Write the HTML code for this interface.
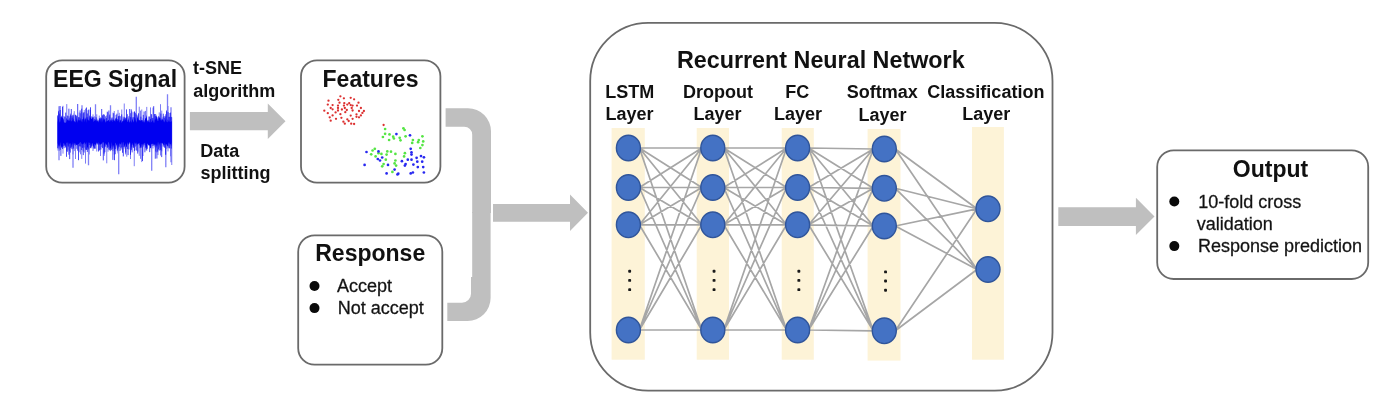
<!DOCTYPE html>
<html><head><meta charset="utf-8"><title>RNN pipeline</title>
<style>
html,body{margin:0;padding:0;background:#fff;}
body{width:1384px;height:410px;overflow:hidden;}
svg{display:block;font-family:"Liberation Sans",sans-serif;filter:blur(0.45px);}
</style></head><body>
<svg width="1384" height="410" viewBox="0 0 1384 410">
<rect width="1384" height="410" fill="#fff"/>
<rect x="46.2" y="60.3" width="138.4" height="122.3" rx="16" ry="16" fill="#fff" stroke="#6a6a6a" stroke-width="1.8"/>
<text x="53.05" y="87.2" font-size="23" font-weight="700" textLength="123.98" lengthAdjust="spacingAndGlyphs" fill="#111">EEG Signal</text>
<path d="M58.00 116.4V150.6M59.25 110.0V150.9M60.50 110.0V149.9M61.75 115.7V147.6M63.00 105.8V153.6M66.75 104.1V151.1M68.00 116.0V149.7M69.25 116.4V151.2M70.50 113.6V152.6M71.75 115.9V147.4M73.00 114.9V154.4M74.25 111.2V151.1M75.50 115.1V159.0M79.25 112.5V152.3M80.50 113.3V154.3M81.75 112.0V158.9M83.00 113.7V151.5M84.25 110.1V152.6M85.50 108.6V163.6M86.75 116.9V148.9M89.25 116.7V154.5M90.50 110.0V147.6M91.75 116.4V148.3M93.00 114.4V151.0M94.25 116.2V148.8M96.75 114.3V151.5M99.25 115.6V150.6M100.50 117.4V156.0M101.75 118.2V147.1M104.25 115.0V155.8M106.75 115.4V163.3M108.00 112.4V151.7M109.25 116.5V148.6M110.50 117.2V151.2M111.75 118.1V146.4M113.00 112.6V151.1M114.25 111.0V154.6M115.50 118.2V154.2M118.00 109.9V148.4M119.25 112.8V151.0M120.50 116.2V150.7M121.75 109.5V149.5M123.00 116.6V146.8M124.25 103.5V148.6M125.50 117.8V154.4M126.75 117.0V156.7M130.50 113.2V159.0M131.75 111.3V147.2M133.00 112.3V147.5M134.25 111.7V166.2M136.75 114.8V150.8M138.00 116.6V151.7M139.25 106.7V155.8M140.50 110.6V158.8M141.75 109.5V162.1M143.00 118.3V156.0M145.50 110.9V147.8M146.75 106.9V150.8M150.50 107.4V147.8M151.75 114.5V147.7M153.00 107.6V148.5M155.50 115.9V151.5M156.75 116.8V152.4M158.00 117.8V155.1M159.25 112.4V150.6M160.50 104.2V155.5M161.75 110.6V151.3M163.00 116.9V146.5M164.25 118.0V147.0M165.50 114.3V154.8M166.75 112.1V148.9M168.00 106.0V151.4M169.25 113.0V148.7M170.50 117.1V156.3M171.75 117.3V165.0" stroke="#5c5cf2" stroke-width="1.0" fill="none" opacity="0.8"/>
<path d="M136.30 96.8V142.3M167.50 94.3V142.3M118.70 122.3V174.3M151.70 122.3V170.8M73.00 122.3V167.8M59.00 106.3V160.3M88.50 122.3V165.3M165.80 122.3V167.3M110.50 105.3V142.3M95.50 104.3V142.3M171.00 107.3V162.3M82.00 105.3V142.3" stroke="#6a6af4" stroke-width="1.3" fill="none" opacity="0.85"/>
<path d="M57.70 115.4V148.3M58.50 111.3V144.1M59.30 113.6V145.7M60.10 106.0V145.4M60.90 117.1V155.9M61.70 116.6V145.1M62.50 106.8V149.0M63.30 119.4V146.3M64.10 116.2V148.2M64.90 117.0V145.4M65.70 112.6V147.6M66.50 118.4V156.8M67.30 115.5V151.8M68.10 119.4V146.4M68.90 108.7V154.7M69.70 118.3V159.1M70.50 115.3V147.8M71.30 109.0V144.1M72.10 117.7V149.2M72.90 115.4V143.9M73.70 119.4V148.7M74.50 121.1V144.6M75.30 114.7V145.6M76.10 115.5V144.0M76.90 115.8V148.8M77.70 104.0V150.7M78.50 117.2V160.2M79.30 117.3V146.4M80.10 110.4V146.1M80.90 120.9V146.7M81.70 108.7V150.0M82.50 119.2V147.9M83.30 112.7V155.1M84.10 112.2V147.6M84.90 119.4V144.5M85.70 118.7V149.6M86.50 107.5V150.0M87.30 113.5V152.0M88.10 110.2V149.7M88.90 109.5V148.6M89.70 115.6V145.0M90.50 107.3V148.2M91.30 120.9V146.7M92.10 116.6V144.1M92.90 118.3V145.7M93.70 117.2V144.7M94.50 119.2V148.4M95.30 121.0V148.7M96.10 117.2V143.3M96.90 120.6V144.3M97.70 121.3V144.4M98.50 120.4V151.5M99.30 118.6V150.1M100.10 118.5V144.5M100.90 118.4V149.6M101.70 109.0V143.7M102.50 115.3V148.1M103.30 114.3V160.4M104.10 114.5V153.6M104.90 118.8V152.2M105.70 116.3V146.7M106.50 118.1V144.4M107.30 111.7V147.9M108.10 121.2V147.2M108.90 110.5V149.6M109.70 114.6V150.3M110.50 120.3V148.0M111.30 119.4V150.2M112.10 117.4V149.2M112.90 119.9V159.9M113.70 113.2V144.7M114.50 120.7V160.2M115.30 119.1V149.0M116.10 114.9V143.3M116.90 113.7V144.5M117.70 119.0V150.6M118.50 116.2V143.5M119.30 115.8V146.8M120.10 120.0V143.7M120.90 119.7V147.8M121.70 114.4V147.4M122.50 121.3V152.8M123.30 118.5V156.4M124.10 116.9V147.0M124.90 117.6V143.7M125.70 119.8V152.5M126.50 109.4V146.7M127.30 114.2V149.0M128.10 120.1V155.1M128.90 116.2V149.4M129.70 109.0V143.6M130.50 117.2V154.8M131.30 109.4V150.2M132.10 117.2V152.4M132.90 121.1V144.9M133.70 117.2V147.9M134.50 111.5V150.9M135.30 112.8V146.6M136.10 114.4V150.3M136.90 120.8V143.3M137.70 118.1V153.6M138.50 113.3V143.5M139.30 120.0V145.3M140.10 120.9V148.2M140.90 116.7V145.6M141.70 120.7V147.7M142.50 120.2V161.0M143.30 114.9V143.5M144.10 111.5V144.6M144.90 120.3V152.3M145.70 119.7V145.3M146.50 118.3V147.3M147.30 121.1V148.8M148.10 120.4V143.7M148.90 116.5V145.2M149.70 116.6V152.1M150.50 118.9V148.1M151.30 114.1V144.1M152.10 118.1V144.0M152.90 117.9V146.0M153.70 106.2V145.4M154.50 114.1V144.1M155.30 114.0V158.7M156.10 116.4V144.9M156.90 117.4V158.5M157.70 119.2V151.6M158.50 116.3V149.5M159.30 118.0V144.3M160.10 118.0V150.3M160.90 113.6V149.9M161.70 119.7V157.1M162.50 119.8V143.4M163.30 113.7V143.5M164.10 116.1V145.0M164.90 117.5V147.9M165.70 116.3V154.7M166.50 110.5V143.4M167.30 119.6V146.1M168.10 112.1V147.9M168.90 116.9V146.4M169.70 116.8V148.0M170.50 112.6V143.4M171.30 116.9V148.6" stroke="#1010f0" stroke-width="0.85" fill="none" opacity="0.9"/>
<polygon points="57.7,122.6 58.4,117.3 59.1,120.9 59.8,122.8 60.5,120.5 61.2,116.5 61.9,117.9 62.6,117.4 63.3,118.6 64.0,122.6 64.7,122.4 65.4,122.7 66.1,122.5 66.8,121.1 67.5,119.5 68.2,121.1 68.9,120.0 69.6,121.1 70.3,119.4 71.0,121.7 71.7,120.8 72.4,120.3 73.1,112.7 73.8,120.9 74.5,122.2 75.2,121.9 75.9,122.6 76.6,116.0 77.3,122.8 78.0,119.0 78.7,120.5 79.4,120.1 80.1,121.0 80.8,117.7 81.5,121.2 82.2,122.4 82.9,119.6 83.6,116.1 84.3,122.3 85.0,117.3 85.7,119.6 86.4,122.7 87.1,116.4 87.8,119.6 88.5,120.1 89.2,121.2 89.9,117.4 90.6,117.4 91.3,119.1 92.0,118.4 92.7,116.7 93.4,121.9 94.1,120.9 94.8,120.9 95.5,119.1 96.2,121.8 96.9,118.1 97.6,120.8 98.3,122.4 99.0,121.5 99.7,117.8 100.4,119.8 101.1,122.5 101.8,117.3 102.5,122.5 103.2,117.4 103.9,120.4 104.6,118.7 105.3,122.7 106.0,120.8 106.7,121.8 107.4,121.1 108.1,120.4 108.8,119.7 109.5,121.7 110.2,121.7 110.9,120.3 111.6,120.5 112.3,122.2 113.0,118.3 113.7,120.6 114.4,120.6 115.1,122.1 115.8,119.5 116.5,116.8 117.2,121.4 117.9,119.9 118.6,119.5 119.3,122.8 120.0,121.0 120.7,120.5 121.4,122.7 122.1,122.2 122.8,121.0 123.5,120.4 124.2,118.6 124.9,121.1 125.6,118.9 126.3,117.2 127.0,121.6 127.7,122.1 128.4,117.2 129.1,122.7 129.8,121.5 130.5,120.4 131.2,122.7 131.9,121.3 132.6,118.0 133.3,122.4 134.0,121.6 134.7,116.8 135.4,118.4 136.1,122.1 136.8,122.4 137.5,114.2 138.2,120.7 138.9,119.0 139.6,120.7 140.3,120.9 141.0,120.1 141.7,120.3 142.4,121.4 143.1,122.5 143.8,120.8 144.5,122.8 145.2,118.3 145.9,118.2 146.6,114.8 147.3,122.7 148.0,119.3 148.7,121.8 149.4,122.4 150.1,118.9 150.8,122.7 151.5,121.9 152.2,121.2 152.9,119.6 153.6,122.6 154.3,122.8 155.0,118.5 155.7,120.0 156.4,113.9 157.1,120.2 157.8,120.9 158.5,121.1 159.2,116.2 159.9,118.5 160.6,119.9 161.3,121.1 162.0,118.1 162.7,119.7 163.4,120.2 164.1,122.4 164.8,121.2 165.5,118.7 166.2,122.1 166.9,121.3 167.6,122.6 168.3,121.4 169.0,119.6 169.7,121.8 170.4,121.9 171.1,121.5 171.8,121.3 171.8,142.4 171.1,146.2 170.4,144.0 169.7,143.9 169.0,142.0 168.3,143.8 167.6,146.7 166.9,143.7 166.2,145.2 165.5,144.6 164.8,142.4 164.1,148.0 163.4,144.7 162.7,143.3 162.0,142.6 161.3,143.4 160.6,142.6 159.9,148.5 159.2,142.9 158.5,141.9 157.8,146.7 157.1,141.9 156.4,148.6 155.7,143.3 155.0,147.9 154.3,144.5 153.6,144.2 152.9,143.2 152.2,144.3 151.5,143.4 150.8,148.8 150.1,145.5 149.4,145.5 148.7,145.6 148.0,144.2 147.3,143.3 146.6,148.9 145.9,150.8 145.2,142.8 144.5,143.1 143.8,147.5 143.1,143.2 142.4,144.9 141.7,143.8 141.0,147.4 140.3,147.4 139.6,142.8 138.9,143.6 138.2,143.6 137.5,144.2 136.8,145.9 136.1,142.1 135.4,144.4 134.7,141.9 134.0,144.4 133.3,147.5 132.6,143.1 131.9,144.2 131.2,149.5 130.5,143.1 129.8,142.1 129.1,142.8 128.4,145.3 127.7,142.3 127.0,145.0 126.3,147.6 125.6,143.0 124.9,145.2 124.2,147.0 123.5,142.3 122.8,142.3 122.1,145.1 121.4,142.0 120.7,144.1 120.0,144.8 119.3,142.7 118.6,149.6 117.9,143.1 117.2,154.2 116.5,146.3 115.8,143.1 115.1,142.7 114.4,151.3 113.7,144.7 113.0,149.4 112.3,145.5 111.6,141.9 110.9,150.3 110.2,147.8 109.5,144.2 108.8,142.4 108.1,141.9 107.4,147.4 106.7,144.0 106.0,145.0 105.3,142.7 104.6,148.9 103.9,143.1 103.2,141.9 102.5,142.5 101.8,143.2 101.1,144.5 100.4,144.5 99.7,143.1 99.0,145.6 98.3,142.1 97.6,143.5 96.9,142.5 96.2,142.7 95.5,146.0 94.8,143.8 94.1,144.2 93.4,149.8 92.7,143.3 92.0,143.0 91.3,146.7 90.6,143.9 89.9,142.6 89.2,143.1 88.5,142.3 87.8,148.1 87.1,147.0 86.4,141.8 85.7,144.3 85.0,142.9 84.3,142.3 83.6,143.8 82.9,144.1 82.2,144.5 81.5,143.7 80.8,141.9 80.1,142.2 79.4,142.9 78.7,144.1 78.0,144.1 77.3,145.5 76.6,145.0 75.9,144.6 75.2,143.1 74.5,143.3 73.8,142.4 73.1,148.5 72.4,141.8 71.7,149.4 71.0,143.7 70.3,143.1 69.6,144.3 68.9,142.2 68.2,147.4 67.5,142.4 66.8,142.6 66.1,142.9 65.4,147.0 64.7,145.7 64.0,142.9 63.3,143.5 62.6,147.6 61.9,146.2 61.2,148.2 60.5,142.0 59.8,144.6 59.1,150.0 58.4,145.9 57.7,142.9" fill="#0000f0"/>
<text x="192.95" y="73.5" font-size="18" font-weight="700" textLength="49.00" lengthAdjust="spacingAndGlyphs" fill="#111">t-SNE</text>
<text x="193.30" y="96.5" font-size="18" font-weight="700" textLength="82.00" lengthAdjust="spacingAndGlyphs" fill="#111">algorithm</text>
<text x="200.15" y="157.2" font-size="18" font-weight="700" textLength="39.01" lengthAdjust="spacingAndGlyphs" fill="#111">Data</text>
<text x="200.50" y="178.6" font-size="18" font-weight="700" textLength="69.99" lengthAdjust="spacingAndGlyphs" fill="#111">splitting</text>
<polygon points="189.9,112 267.8,112 267.8,103.4 285.5,121.15 267.8,138.9 267.8,130.3 189.9,130.3" fill="#bfbfbf"/>
<rect x="301.0" y="60.3" width="139.4" height="122.3" rx="16" ry="16" fill="#fff" stroke="#6a6a6a" stroke-width="1.8"/>
<text x="322.55" y="87.2" font-size="23" font-weight="700" textLength="95.88" lengthAdjust="spacingAndGlyphs" fill="#111">Features</text>
<circle cx="340.4" cy="96.3" r="1.15" fill="#dc3030"/>
<circle cx="343.9" cy="98.3" r="1.15" fill="#dc3030"/>
<circle cx="350.7" cy="97.8" r="1.15" fill="#dc3030"/>
<circle cx="354.1" cy="99.3" r="1.15" fill="#dc3030"/>
<circle cx="328.5" cy="100.7" r="1.15" fill="#dc3030"/>
<circle cx="338.3" cy="99.8" r="1.15" fill="#dc3030"/>
<circle cx="339.5" cy="102.7" r="1.15" fill="#dc3030"/>
<circle cx="344.3" cy="103.2" r="1.15" fill="#dc3030"/>
<circle cx="349.2" cy="103.2" r="1.15" fill="#dc3030"/>
<circle cx="358.5" cy="102.7" r="1.15" fill="#dc3030"/>
<circle cx="327.8" cy="104.6" r="1.15" fill="#dc3030"/>
<circle cx="332.6" cy="105.1" r="1.15" fill="#dc3030"/>
<circle cx="338.0" cy="105.6" r="1.15" fill="#dc3030"/>
<circle cx="343.9" cy="105.6" r="1.15" fill="#dc3030"/>
<circle cx="350.7" cy="105.1" r="1.15" fill="#dc3030"/>
<circle cx="352.6" cy="105.6" r="1.15" fill="#dc3030"/>
<circle cx="357.0" cy="105.6" r="1.15" fill="#dc3030"/>
<circle cx="360.9" cy="108.0" r="1.15" fill="#dc3030"/>
<circle cx="332.6" cy="109.3" r="1.15" fill="#dc3030"/>
<circle cx="338.0" cy="108.0" r="1.15" fill="#dc3030"/>
<circle cx="344.8" cy="108.0" r="1.15" fill="#dc3030"/>
<circle cx="351.7" cy="108.0" r="1.15" fill="#dc3030"/>
<circle cx="324.3" cy="110.7" r="1.15" fill="#dc3030"/>
<circle cx="338.0" cy="110.5" r="1.15" fill="#dc3030"/>
<circle cx="346.8" cy="110.0" r="1.15" fill="#dc3030"/>
<circle cx="352.6" cy="110.5" r="1.15" fill="#dc3030"/>
<circle cx="363.9" cy="111.0" r="1.15" fill="#dc3030"/>
<circle cx="327.8" cy="113.2" r="1.15" fill="#dc3030"/>
<circle cx="345.3" cy="112.2" r="1.15" fill="#dc3030"/>
<circle cx="340.4" cy="114.2" r="1.15" fill="#dc3030"/>
<circle cx="362.4" cy="112.9" r="1.15" fill="#dc3030"/>
<circle cx="332.6" cy="115.4" r="1.15" fill="#dc3030"/>
<circle cx="350.7" cy="115.6" r="1.15" fill="#dc3030"/>
<circle cx="356.5" cy="114.4" r="1.15" fill="#dc3030"/>
<circle cx="360.9" cy="115.4" r="1.15" fill="#dc3030"/>
<circle cx="356.5" cy="116.8" r="1.15" fill="#dc3030"/>
<circle cx="359.0" cy="117.3" r="1.15" fill="#dc3030"/>
<circle cx="341.4" cy="117.8" r="1.15" fill="#dc3030"/>
<circle cx="352.6" cy="118.8" r="1.15" fill="#dc3030"/>
<circle cx="336.0" cy="118.8" r="1.15" fill="#dc3030"/>
<circle cx="347.3" cy="119.3" r="1.15" fill="#dc3030"/>
<circle cx="330.7" cy="120.7" r="1.15" fill="#dc3030"/>
<circle cx="348.7" cy="121.0" r="1.15" fill="#dc3030"/>
<circle cx="343.4" cy="121.7" r="1.15" fill="#dc3030"/>
<circle cx="344.8" cy="123.7" r="1.15" fill="#dc3030"/>
<circle cx="351.2" cy="123.7" r="1.15" fill="#dc3030"/>
<circle cx="354.1" cy="124.0" r="1.15" fill="#dc3030"/>
<circle cx="330.7" cy="108.0" r="1.15" fill="#dc3030"/>
<circle cx="341.9" cy="109.5" r="1.15" fill="#dc3030"/>
<circle cx="335.6" cy="112.4" r="1.15" fill="#dc3030"/>
<circle cx="359.0" cy="111.0" r="1.15" fill="#dc3030"/>
<circle cx="347.3" cy="104.6" r="1.15" fill="#dc3030"/>
<circle cx="329.7" cy="117.3" r="1.15" fill="#dc3030"/>
<circle cx="383.6" cy="125.0" r="1.15" fill="#dc3030"/>
<circle cx="385.1" cy="129.0" r="1.35" fill="#55e544"/>
<circle cx="403.4" cy="128.3" r="1.35" fill="#55e544"/>
<circle cx="404.6" cy="130.0" r="1.35" fill="#55e544"/>
<circle cx="385.1" cy="133.8" r="1.35" fill="#55e544"/>
<circle cx="389.5" cy="134.4" r="1.35" fill="#55e544"/>
<circle cx="382.9" cy="137.0" r="1.35" fill="#55e544"/>
<circle cx="393.2" cy="136.7" r="1.35" fill="#55e544"/>
<circle cx="393.9" cy="138.5" r="1.35" fill="#55e544"/>
<circle cx="399.7" cy="137.8" r="1.35" fill="#55e544"/>
<circle cx="400.5" cy="140.3" r="1.35" fill="#55e544"/>
<circle cx="405.6" cy="136.3" r="1.35" fill="#55e544"/>
<circle cx="389.1" cy="140.0" r="1.35" fill="#55e544"/>
<circle cx="422.4" cy="136.3" r="1.35" fill="#55e544"/>
<circle cx="412.9" cy="140.0" r="1.35" fill="#55e544"/>
<circle cx="418.8" cy="140.0" r="1.35" fill="#55e544"/>
<circle cx="423.2" cy="141.4" r="1.35" fill="#55e544"/>
<circle cx="412.2" cy="142.9" r="1.35" fill="#55e544"/>
<circle cx="418.1" cy="142.2" r="1.35" fill="#55e544"/>
<circle cx="422.4" cy="145.1" r="1.35" fill="#55e544"/>
<circle cx="420.3" cy="148.0" r="1.35" fill="#55e544"/>
<circle cx="374.8" cy="148.8" r="1.35" fill="#55e544"/>
<circle cx="372.6" cy="150.5" r="1.35" fill="#55e544"/>
<circle cx="387.3" cy="151.4" r="1.35" fill="#55e544"/>
<circle cx="391.0" cy="151.7" r="1.35" fill="#55e544"/>
<circle cx="395.4" cy="153.9" r="1.35" fill="#55e544"/>
<circle cx="371.2" cy="154.3" r="1.35" fill="#55e544"/>
<circle cx="378.5" cy="153.2" r="1.35" fill="#55e544"/>
<circle cx="381.4" cy="153.9" r="1.35" fill="#55e544"/>
<circle cx="386.6" cy="154.6" r="1.35" fill="#55e544"/>
<circle cx="404.9" cy="153.2" r="1.35" fill="#55e544"/>
<circle cx="404.1" cy="156.4" r="1.35" fill="#55e544"/>
<circle cx="375.6" cy="156.4" r="1.35" fill="#55e544"/>
<circle cx="385.8" cy="159.7" r="1.35" fill="#55e544"/>
<circle cx="395.4" cy="160.5" r="1.35" fill="#55e544"/>
<circle cx="394.6" cy="163.4" r="1.35" fill="#55e544"/>
<circle cx="396.1" cy="165.6" r="1.35" fill="#55e544"/>
<circle cx="383.6" cy="164.1" r="1.35" fill="#55e544"/>
<circle cx="382.2" cy="166.3" r="1.35" fill="#55e544"/>
<circle cx="392.4" cy="171.9" r="1.35" fill="#55e544"/>
<circle cx="396.4" cy="134.1" r="1.35" fill="#2828f0"/>
<circle cx="410.0" cy="135.3" r="1.35" fill="#2828f0"/>
<circle cx="366.5" cy="152.0" r="1.35" fill="#2828f0"/>
<circle cx="378.5" cy="151.4" r="1.35" fill="#2828f0"/>
<circle cx="410.7" cy="148.8" r="1.35" fill="#2828f0"/>
<circle cx="411.5" cy="152.4" r="1.35" fill="#2828f0"/>
<circle cx="411.5" cy="154.6" r="1.35" fill="#2828f0"/>
<circle cx="382.2" cy="157.5" r="1.35" fill="#2828f0"/>
<circle cx="377.8" cy="159.0" r="1.35" fill="#2828f0"/>
<circle cx="380.0" cy="160.5" r="1.35" fill="#2828f0"/>
<circle cx="421.0" cy="156.1" r="1.35" fill="#2828f0"/>
<circle cx="423.9" cy="157.3" r="1.35" fill="#2828f0"/>
<circle cx="416.6" cy="157.8" r="1.35" fill="#2828f0"/>
<circle cx="407.8" cy="159.7" r="1.35" fill="#2828f0"/>
<circle cx="411.5" cy="159.7" r="1.35" fill="#2828f0"/>
<circle cx="401.9" cy="161.2" r="1.35" fill="#2828f0"/>
<circle cx="417.3" cy="161.7" r="1.35" fill="#2828f0"/>
<circle cx="422.2" cy="161.7" r="1.35" fill="#2828f0"/>
<circle cx="364.6" cy="164.9" r="1.35" fill="#2828f0"/>
<circle cx="388.0" cy="164.9" r="1.35" fill="#2828f0"/>
<circle cx="405.6" cy="164.1" r="1.35" fill="#2828f0"/>
<circle cx="404.9" cy="165.6" r="1.35" fill="#2828f0"/>
<circle cx="413.4" cy="164.6" r="1.35" fill="#2828f0"/>
<circle cx="417.8" cy="167.1" r="1.35" fill="#2828f0"/>
<circle cx="423.2" cy="167.1" r="1.35" fill="#2828f0"/>
<circle cx="394.6" cy="169.6" r="1.35" fill="#2828f0"/>
<circle cx="386.6" cy="173.4" r="1.35" fill="#2828f0"/>
<circle cx="398.3" cy="173.7" r="1.35" fill="#2828f0"/>
<circle cx="397.5" cy="174.4" r="1.35" fill="#2828f0"/>
<circle cx="410.7" cy="173.4" r="1.35" fill="#2828f0"/>
<circle cx="412.9" cy="172.5" r="1.35" fill="#2828f0"/>
<circle cx="423.9" cy="172.5" r="1.35" fill="#2828f0"/>
<rect x="298.2" y="235.3" width="144.1" height="129.4" rx="16.5" ry="16.5" fill="#fff" stroke="#6a6a6a" stroke-width="1.8"/>
<text x="315.25" y="261.0" font-size="23" font-weight="700" textLength="109.93" lengthAdjust="spacingAndGlyphs" fill="#111">Response</text>
<text x="337.10" y="292.0" font-size="18" font-weight="400" textLength="55.03" lengthAdjust="spacingAndGlyphs" fill="#111" stroke="#222" stroke-width="0.3">Accept</text>
<text x="337.65" y="314.4" font-size="18" font-weight="400" textLength="86.05" lengthAdjust="spacingAndGlyphs" fill="#111" stroke="#222" stroke-width="0.3">Not accept</text>
<circle cx="314.5" cy="286" r="5" fill="#0a0a0a"/>
<circle cx="314.5" cy="308.1" r="5" fill="#0a0a0a"/>
<path d="M445.6 108.3 H468 A23 23 0 0 1 491 131.3 V213 H472.2 V134.7 A8 8 0 0 0 464.2 126.7 H445.6 Z" fill="#bfbfbf"/>
<path d="M447.3 321 H467.6 A23 23 0 0 0 490.6 298 V212 H472.2 V277 H471 V293.7 A9 9 0 0 1 462 302.7 H447.3 Z" fill="#bfbfbf"/>
<polygon points="493,203.9 570,203.9 570,194.4 588,212.7 570,231 570,221.8 493,221.8" fill="#bfbfbf"/>
<rect x="590.2" y="22.9" width="462.3" height="367.7" rx="58" ry="58" fill="#fff" stroke="#6a6a6a" stroke-width="1.8"/>
<text x="676.90" y="68.3" font-size="23" font-weight="700" textLength="287.75" lengthAdjust="spacingAndGlyphs" fill="#111">Recurrent Neural Network</text>
<text x="605.35" y="97.9" font-size="18" font-weight="700" textLength="48.99" lengthAdjust="spacingAndGlyphs" fill="#111">LSTM</text>
<text x="605.60" y="119.6" font-size="18" font-weight="700" textLength="48.03" lengthAdjust="spacingAndGlyphs" fill="#111">Layer</text>
<text x="683.00" y="97.9" font-size="18" font-weight="700" textLength="69.98" lengthAdjust="spacingAndGlyphs" fill="#111">Dropout</text>
<text x="693.50" y="119.6" font-size="18" font-weight="700" textLength="48.03" lengthAdjust="spacingAndGlyphs" fill="#111">Layer</text>
<text x="785.30" y="97.9" font-size="18" font-weight="700" textLength="23.99" lengthAdjust="spacingAndGlyphs" fill="#111">FC</text>
<text x="774.05" y="119.6" font-size="18" font-weight="700" textLength="48.03" lengthAdjust="spacingAndGlyphs" fill="#111">Layer</text>
<text x="846.80" y="98.3" font-size="18" font-weight="700" textLength="71.02" lengthAdjust="spacingAndGlyphs" fill="#111">Softmax</text>
<text x="858.60" y="121.2" font-size="18" font-weight="700" textLength="48.03" lengthAdjust="spacingAndGlyphs" fill="#111">Layer</text>
<text x="927.35" y="97.9" font-size="18" font-weight="700" textLength="117.04" lengthAdjust="spacingAndGlyphs" fill="#111">Classification</text>
<text x="962.20" y="119.8" font-size="18" font-weight="700" textLength="48.03" lengthAdjust="spacingAndGlyphs" fill="#111">Layer</text>
<rect x="611.6" y="128" width="33.2" height="231.7" fill="#fdf3d7"/>
<rect x="696.7" y="128" width="32.3" height="231.7" fill="#fdf3d7"/>
<rect x="781.7" y="128" width="32.1" height="231.7" fill="#fdf3d7"/>
<rect x="867.6" y="129" width="32.9" height="231.6" fill="#fdf3d7"/>
<rect x="972" y="127" width="31.9" height="232.7" fill="#fdf3d7"/>
<path d="M639.4 148L701.8 148M639.4 148L701.8 187.5M639.4 148L701.8 224.8M639.4 148L701.8 330M639.4 187.5L701.8 148M639.4 187.5L701.8 187.5M639.4 187.5L701.8 224.8M639.4 187.5L701.8 330M639.4 224.8L701.8 148M639.4 224.8L701.8 187.5M639.4 224.8L701.8 224.8M639.4 224.8L701.8 330M639.4 330L701.8 148M639.4 330L701.8 187.5M639.4 330L701.8 224.8M639.4 330L701.8 330M723.8 148L786.6 148M723.8 148L786.6 187.5M723.8 148L786.6 224.8M723.8 148L786.6 330M723.8 187.5L786.6 148M723.8 187.5L786.6 187.5M723.8 187.5L786.6 224.8M723.8 187.5L786.6 330M723.8 224.8L786.6 148M723.8 224.8L786.6 187.5M723.8 224.8L786.6 224.8M723.8 224.8L786.6 330M723.8 330L786.6 148M723.8 330L786.6 187.5M723.8 330L786.6 224.8M723.8 330L786.6 330M808.6 148L873.3 149M808.6 148L873.3 188.3M808.6 148L873.3 226M808.6 148L873.3 330.8M808.6 187.5L873.3 149M808.6 187.5L873.3 188.3M808.6 187.5L873.3 226M808.6 187.5L873.3 330.8M808.6 224.8L873.3 149M808.6 224.8L873.3 188.3M808.6 224.8L873.3 226M808.6 224.8L873.3 330.8M808.6 330L873.3 149M808.6 330L873.3 188.3M808.6 330L873.3 226M808.6 330L873.3 330.8M895.3 149L977.0 208.8M895.3 149L977.0 269.5M895.3 188.3L977.0 208.8M895.3 188.3L977.0 269.5M895.3 226L977.0 208.8M895.3 226L977.0 269.5M895.3 330.8L977.0 208.8M895.3 330.8L977.0 269.5" stroke="#a6a6a6" stroke-width="1.7" fill="none"/>
<ellipse cx="628.4" cy="148" rx="12.0" ry="12.8" fill="#4472c4" stroke="#30559a" stroke-width="1.4"/>
<ellipse cx="628.4" cy="187.5" rx="12.0" ry="12.8" fill="#4472c4" stroke="#30559a" stroke-width="1.4"/>
<ellipse cx="628.4" cy="224.8" rx="12.0" ry="12.8" fill="#4472c4" stroke="#30559a" stroke-width="1.4"/>
<ellipse cx="628.4" cy="330" rx="12.0" ry="12.8" fill="#4472c4" stroke="#30559a" stroke-width="1.4"/>
<rect x="628.2" y="269.8" width="2.9" height="2.9" rx="0.9" fill="#1a1a1a"/>
<rect x="628.2" y="278.9" width="2.9" height="2.9" rx="0.9" fill="#1a1a1a"/>
<rect x="628.2" y="288.2" width="2.9" height="2.9" rx="0.9" fill="#1a1a1a"/>
<ellipse cx="712.8" cy="148" rx="12.0" ry="12.8" fill="#4472c4" stroke="#30559a" stroke-width="1.4"/>
<ellipse cx="712.8" cy="187.5" rx="12.0" ry="12.8" fill="#4472c4" stroke="#30559a" stroke-width="1.4"/>
<ellipse cx="712.8" cy="224.8" rx="12.0" ry="12.8" fill="#4472c4" stroke="#30559a" stroke-width="1.4"/>
<ellipse cx="712.8" cy="330" rx="12.0" ry="12.8" fill="#4472c4" stroke="#30559a" stroke-width="1.4"/>
<rect x="712.6" y="269.8" width="2.9" height="2.9" rx="0.9" fill="#1a1a1a"/>
<rect x="712.6" y="278.9" width="2.9" height="2.9" rx="0.9" fill="#1a1a1a"/>
<rect x="712.6" y="288.2" width="2.9" height="2.9" rx="0.9" fill="#1a1a1a"/>
<ellipse cx="797.6" cy="148" rx="12.0" ry="12.8" fill="#4472c4" stroke="#30559a" stroke-width="1.4"/>
<ellipse cx="797.6" cy="187.5" rx="12.0" ry="12.8" fill="#4472c4" stroke="#30559a" stroke-width="1.4"/>
<ellipse cx="797.6" cy="224.8" rx="12.0" ry="12.8" fill="#4472c4" stroke="#30559a" stroke-width="1.4"/>
<ellipse cx="797.6" cy="330" rx="12.0" ry="12.8" fill="#4472c4" stroke="#30559a" stroke-width="1.4"/>
<rect x="797.4" y="269.8" width="2.9" height="2.9" rx="0.9" fill="#1a1a1a"/>
<rect x="797.4" y="278.9" width="2.9" height="2.9" rx="0.9" fill="#1a1a1a"/>
<rect x="797.4" y="288.2" width="2.9" height="2.9" rx="0.9" fill="#1a1a1a"/>
<ellipse cx="884.3" cy="149" rx="12.0" ry="12.8" fill="#4472c4" stroke="#30559a" stroke-width="1.4"/>
<ellipse cx="884.3" cy="188.3" rx="12.0" ry="12.8" fill="#4472c4" stroke="#30559a" stroke-width="1.4"/>
<ellipse cx="884.3" cy="226" rx="12.0" ry="12.8" fill="#4472c4" stroke="#30559a" stroke-width="1.4"/>
<ellipse cx="884.3" cy="330.8" rx="12.0" ry="12.8" fill="#4472c4" stroke="#30559a" stroke-width="1.4"/>
<rect x="884.1" y="270.4" width="2.9" height="2.9" rx="0.9" fill="#1a1a1a"/>
<rect x="884.1" y="279.6" width="2.9" height="2.9" rx="0.9" fill="#1a1a1a"/>
<rect x="884.1" y="288.8" width="2.9" height="2.9" rx="0.9" fill="#1a1a1a"/>
<ellipse cx="988" cy="208.8" rx="12.0" ry="12.8" fill="#4472c4" stroke="#30559a" stroke-width="1.4"/>
<ellipse cx="988" cy="269.5" rx="12.0" ry="12.8" fill="#4472c4" stroke="#30559a" stroke-width="1.4"/>
<polygon points="1058.3,207.3 1135.9,207.3 1135.9,197.8 1154.5,216.45 1135.9,235.1 1135.9,226 1058.3,226" fill="#bfbfbf"/>
<rect x="1157.2" y="150.3" width="211.0" height="128.7" rx="16.5" ry="16.5" fill="#fff" stroke="#6a6a6a" stroke-width="1.8"/>
<text x="1232.85" y="176.7" font-size="23" font-weight="700" textLength="75.36" lengthAdjust="spacingAndGlyphs" fill="#111">Output</text>
<text x="1198.20" y="208.4" font-size="18" font-weight="400" textLength="103.04" lengthAdjust="spacingAndGlyphs" fill="#111" stroke="#222" stroke-width="0.3">10-fold cross</text>
<text x="1196.65" y="229.7" font-size="18" font-weight="400" textLength="76.05" lengthAdjust="spacingAndGlyphs" fill="#111" stroke="#222" stroke-width="0.3">validation</text>
<text x="1198.00" y="251.6" font-size="18" font-weight="400" textLength="164.10" lengthAdjust="spacingAndGlyphs" fill="#111" stroke="#222" stroke-width="0.3">Response prediction</text>
<circle cx="1174.3" cy="201.5" r="5" fill="#0a0a0a"/>
<circle cx="1174.3" cy="246.1" r="5" fill="#0a0a0a"/>
</svg>
</body></html>
